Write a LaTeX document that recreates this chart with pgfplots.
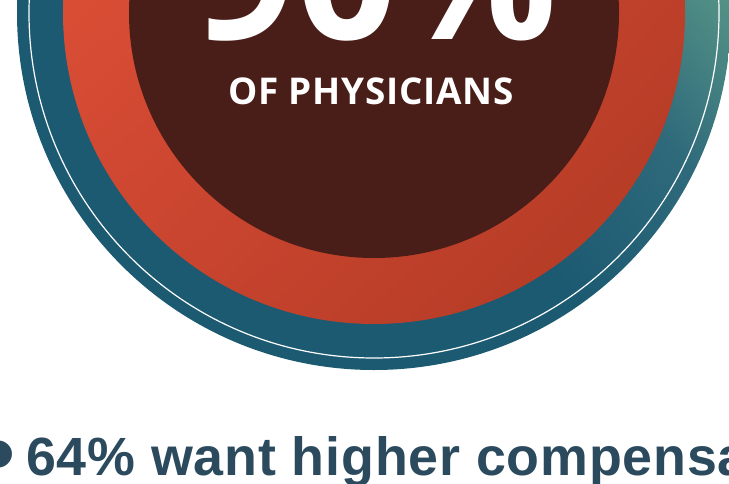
\documentclass[border=0pt]{standalone}
\usepackage{pgfplots}
\pgfplotsset{compat=1.18}
\usetikzlibrary{shadings}
\usepackage{fontspec}
\setmainfont{Liberation Sans}
\newfontfamily\opensans{Open Sans}
\newfontfamily\libsans{Liberation Sans}
\usepackage{graphicx}
\definecolor{tealD}{HTML}{1C5A72}
\definecolor{tealM}{HTML}{2F6A7B}
\definecolor{tealG}{HTML}{68A88C}
\definecolor{redL}{HTML}{E8553A}
\definecolor{redM}{HTML}{CB4530}
\definecolor{redD}{HTML}{AE3923}
\definecolor{brownD}{HTML}{4A1E18}
\definecolor{txtc}{HTML}{2C4A5E}
\pgfdeclarehorizontalshading{outerteal}{100bp}{color(0bp)=(tealD); color(25bp)=(tealD); color(48bp)=(tealD); color(60bp)=(tealM); color(75bp)=(tealG); color(100bp)=(tealG)}
\begin{document}
\begin{tikzpicture}
\useasboundingbox (0,0) rectangle (729bp,484bp);
\clip (0,0) rectangle (729bp,484bp);
\begin{axis}[at={(0,0)}, anchor=south west, scale only axis,
  width=729bp, height=484bp, xmin=0, xmax=729, ymin=0, ymax=484,
  y dir=reverse, hide axis, clip=false]
% rings (radii in px)
\shade[shading=outerteal, shading angle=40] (axis cs:374,13) circle[radius=357];
\draw[white, line width=1.2bp] (axis cs:374,13) circle[radius=345];
\shade[upper left=redL, lower right=redD, upper right=redM, lower left=redM] (axis cs:374,13) circle[radius=311];
\fill[brownD] (axis cs:374,13) circle[radius=245];
% texts
\node[anchor=base, text=white, inner sep=0pt, font=\opensans\bfseries\fontsize{178}{178}\selectfont] at (axis cs:376,40) {90\%};
\node[anchor=base, text=white, inner sep=0pt, font=\opensans\bfseries\fontsize{37}{37}\selectfont\addfontfeature{LetterSpace=2}] at (axis cs:371,104) {OF PHYSICIANS};
\node[anchor=center, text=txtc, inner sep=0pt, font=\libsans\fontsize{100}{100}\selectfont] at (axis cs:-1,464) {•};
\node[anchor=base west, text=txtc, inner sep=0pt, font=\libsans\bfseries\fontsize{54}{54}\selectfont\addfontfeature{LetterSpace=1.5}] at (axis cs:26,475) {64\% want higher compensation};
\end{axis}
\end{tikzpicture}
\end{document}
